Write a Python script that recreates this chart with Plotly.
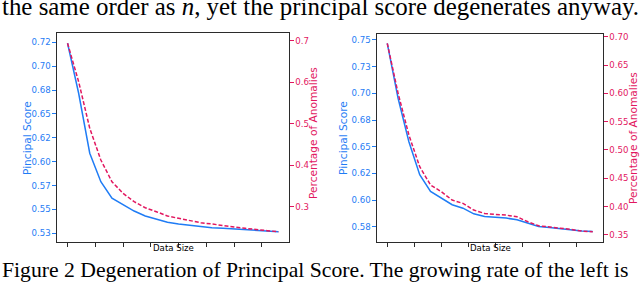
import plotly.graph_objects as go

# ---------------- data ----------------
data_size = list(range(20))  # 20 sizes (unlabelled x axis)
xtick_vals = [0, 2.5, 5, 7.5, 10, 12.5, 15, 17.5]

left_score = [0.7240, 0.6716, 0.6088, 0.5790, 0.5617, 0.5546, 0.5483, 0.5431,
              0.5397, 0.5365, 0.5347, 0.5334, 0.5319, 0.5309, 0.5302, 0.5295,
              0.5288, 0.5281, 0.5274, 0.5267]
left_anom = [0.6944, 0.6017, 0.4891, 0.4126, 0.3601, 0.3321, 0.3118, 0.2973,
             0.2877, 0.2773, 0.2717, 0.2659, 0.2611, 0.2580, 0.2539, 0.2507,
             0.2476, 0.2442, 0.2418, 0.2394]
right_score = [0.7469, 0.6954, 0.6547, 0.6237, 0.6081, 0.6018, 0.5956, 0.5924,
               0.5871, 0.5846, 0.5840, 0.5831, 0.5815, 0.5784, 0.5752, 0.5743,
               0.5731, 0.5722, 0.5709, 0.5706]
right_anom = [0.6883, 0.6000, 0.5263, 0.4703, 0.4380, 0.4261, 0.4114, 0.4055,
              0.3937, 0.3878, 0.3860, 0.3848, 0.3818, 0.3730, 0.3659, 0.3641,
              0.3613, 0.3595, 0.3565, 0.3553]

left_score_ticks = [0.725, 0.700, 0.675, 0.650, 0.625, 0.600, 0.575, 0.550, 0.525]
left_score_labels = ["0.72", "0.70", "0.68", "0.65", "0.62", "0.60", "0.57", "0.55", "0.53"]
left_anom_ticks = [0.7, 0.6, 0.5, 0.4, 0.3]
left_anom_labels = ["0.7", "0.6", "0.5", "0.4", "0.3"]
right_score_ticks = [0.750, 0.725, 0.700, 0.675, 0.650, 0.625, 0.600, 0.575]
right_score_labels = ["0.75", "0.73", "0.70", "0.68", "0.65", "0.62", "0.60", "0.58"]
right_anom_ticks = [0.70, 0.65, 0.60, 0.55, 0.50, 0.45, 0.40, 0.35]
right_anom_labels = ["0.70", "0.65", "0.60", "0.55", "0.50", "0.45", "0.40", "0.35"]

# ---------------- style ----------------
W, H = 640, 284
BLUE = "#1f7cf5"
PINK = "#e2175f"
SPINE = "#2b2b2b"
TICKFONT = 8.6
TITLEFONT = 10.6


def px(x):
    return x / W


def py(y):
    return 1 - y / H


fig = go.Figure()
fig.add_trace(go.Scatter(x=data_size, y=left_score, mode="lines",
                         line=dict(color=BLUE, width=1.5), xaxis="x", yaxis="y"))
fig.add_trace(go.Scatter(x=data_size, y=left_anom, mode="lines",
                         line=dict(color=PINK, width=1.5, dash="4px,2px"), xaxis="x", yaxis="y2"))
fig.add_trace(go.Scatter(x=data_size, y=right_score, mode="lines",
                         line=dict(color=BLUE, width=1.5), xaxis="x2", yaxis="y3"))
fig.add_trace(go.Scatter(x=data_size, y=right_anom, mode="lines",
                         line=dict(color=PINK, width=1.5, dash="4px,2px"), xaxis="x2", yaxis="y4"))

xcommon = dict(range=[-0.95, 19.95], tickvals=xtick_vals, showticklabels=False,
               ticks="outside", ticklen=3.5, tickcolor=SPINE, tickwidth=1,
               showline=True, linecolor=SPINE, linewidth=1.2, mirror=True,
               showgrid=False, zeroline=False, automargin=False)
ycommon = dict(ticks="outside", ticklen=3.5, tickwidth=1, showline=True,
               linecolor=SPINE, linewidth=1.2, showgrid=False, zeroline=False,
               automargin=False)

ydom_l = [py(242), py(33)]
ydom_r = [py(242), py(34)]

fig.update_layout(
    template="none",
    width=W, height=H, margin=dict(l=0, r=0, t=0, b=0, pad=0),
    paper_bgcolor="white", plot_bgcolor="white", showlegend=False,
    font=dict(family="DejaVu Sans", size=TICKFONT),
    xaxis=dict(domain=[px(57), px(289)], anchor="y", **xcommon),
    xaxis2=dict(domain=[px(377), px(603)], anchor="y3", **xcommon),
    yaxis=dict(domain=ydom_l, anchor="x", range=[0.5159, 0.7347],
               tickvals=left_score_ticks, ticktext=left_score_labels,
               tickcolor=BLUE, tickfont=dict(color=BLUE, size=TICKFONT), **ycommon),
    yaxis2=dict(overlaying="y", side="right", anchor="x", range=[0.2145, 0.7193],
                tickvals=left_anom_ticks, ticktext=left_anom_labels,
                tickcolor=PINK, tickfont=dict(color=PINK, size=TICKFONT), **ycommon),
    yaxis3=dict(domain=ydom_r, anchor="x2", range=[0.5607, 0.7556],
                tickvals=right_score_ticks, ticktext=right_score_labels,
                tickcolor=BLUE, tickfont=dict(color=BLUE, size=TICKFONT), **ycommon),
    yaxis4=dict(overlaying="y3", side="right", anchor="x2", range=[0.3373, 0.7048],
                tickvals=right_anom_ticks, ticktext=right_anom_labels,
                tickcolor=PINK, tickfont=dict(color=PINK, size=TICKFONT), **ycommon),
)

ann = []
# axis titles
ann.append(dict(text="Pincipal Score", x=px(27), y=py(138), textangle=-90,
                font=dict(color=BLUE, size=TITLEFONT)))
ann.append(dict(text="Percentage of Anomalies", x=px(313), y=py(133), textangle=-90,
                font=dict(color=PINK, size=TITLEFONT)))
ann.append(dict(text="Pincipal Score", x=px(343), y=py(138), textangle=-90,
                font=dict(color=BLUE, size=TITLEFONT)))
ann.append(dict(text="Percentage of Anomalies", x=px(633), y=py(138), textangle=-90,
                font=dict(color=PINK, size=TITLEFONT)))
ann.append(dict(text="Data Size", x=px(173), y=py(247.5), font=dict(color="black", size=TICKFONT)))
ann.append(dict(text="Data Size", x=px(490), y=py(247.5), font=dict(color="black", size=TICKFONT)))
# surrounding paper text
ann.append(dict(text="the same order as <i>n</i>, yet the principal score degenerates anyway.",
                x=px(0), xanchor="left", y=py(6.5), font=dict(family="Liberation Serif", size=24.9, color="black")))
ann.append(dict(text="Figure 2 Degeneration of Principal Score. The growing rate of the left is",
                x=px(0), xanchor="left", y=py(270), font=dict(family="Liberation Serif", size=21.7, color="black")))

for a in ann:
    a.setdefault("xref", "paper")
    a.setdefault("yref", "paper")
    a.setdefault("showarrow", False)
    a.setdefault("xanchor", "center")
    a.setdefault("yanchor", "middle")
fig.update_layout(annotations=ann)

fig.write_html("out.html", config={"displayModeBar": False},
               post_script="document.body.style.margin='0';document.body.style.padding='0';")
